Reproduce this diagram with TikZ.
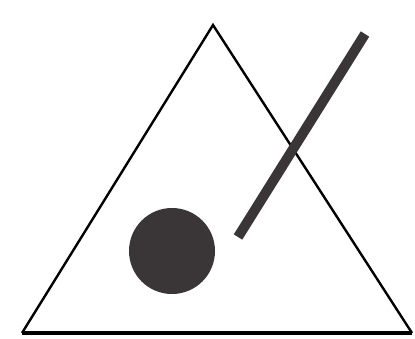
\documentclass[tikz,border=0pt]{standalone}
\definecolor{shapegray}{RGB}{58,54,56}
\usepackage{tikz}
\usetikzlibrary{calc}

\begin{document}
\begin{tikzpicture}[x=1pt,y=-1pt]
\useasboundingbox (0,0) rectangle (415,338);
\coordinate (apex) at (213,25);
\coordinate (baseL) at (22,333);
\coordinate (baseR) at (412,333);
\coordinate (barA) at (238,237);
\coordinate (barB) at (365,34);
\draw[line width=2.4pt,line join=miter] (baseL) -- (apex) -- (baseR);
\draw[line width=3.2pt] (baseL) -- (baseR);
\fill[shapegray] (172,251) circle (43);
\draw[line width=10pt,shapegray] (barA) -- (barB);
\end{tikzpicture}
\end{document}
